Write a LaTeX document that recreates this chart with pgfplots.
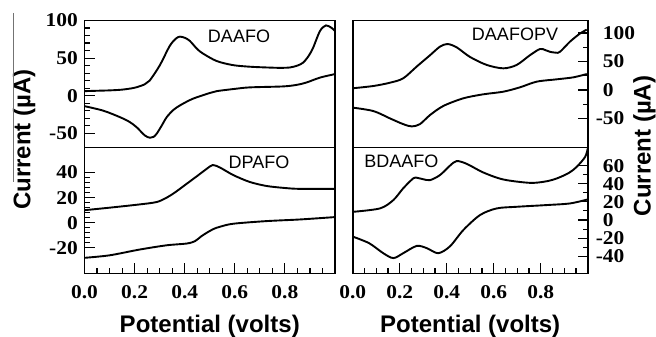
\documentclass[border=0pt]{standalone}
\usepackage{pgfplots}
\pgfplotsset{compat=1.18}
\usepackage{fontspec}
\setmainfont{Liberation Sans}
\newfontfamily\tickfont[FakeStretch=1.1]{Liberation Serif}

\pgfplotsset{
  cvbase/.style={
    scale only axis,
    xmin=0, xmax=1,
    axis line style={line width=1.6pt},
    every tick/.style={black, line width=1.1pt},
    major tick length=10pt,
    minor tick length=5pt,
    tick label style={font=\tickfont\bfseries\fontsize{19.5}{19.5}\selectfont, inner sep=0pt},
  },
  cvbottom/.style={
    xtick={0,0.2,0.4,0.6,0.8,1},
    xticklabels={0.0,0.2,0.4,0.6,0.8,{}},
    minor x tick num=3,
    xtick pos=lower,
    xticklabel style={anchor=north, yshift=-12pt},
  },
  cvline/.style={black, line width=1.9pt, smooth, no markers},
}

\begin{document}
\begin{tikzpicture}
\useasboundingbox (0pt,0pt) rectangle (656pt,337pt);

% ---------- DAAFO (top left)
\begin{axis}[cvbase, at={(84.5pt,189.5pt)}, anchor=south west,
  width=250.5pt, height=127pt, ymin=-69, ymax=100,
  xtick=\empty,
  ytick={-50,0,50,100}, yticklabels={-50,0,50,100}, minor y tick num=4,
  ytick pos=lower, yticklabel style={anchor=east, xshift=-6.5pt}]
\addplot[cvline] coordinates {(0,6) (0.05,6.5) (0.1,7) (0.15,8) (0.2,10.5) (0.24,15) (0.26,20) (0.30,40) (0.34,66) (0.365,76) (0.381,78.5) (0.40,77) (0.42,73) (0.45,62) (0.473,56) (0.528,46) (0.593,40.6) (0.66,38.5) (0.727,37.5) (0.78,37) (0.82,37.5) (0.85,40) (0.873,44) (0.895,53) (0.913,64) (0.94,86) (0.964,93.5) (0.987,90) (1.0,86)};
\addplot[cvline] coordinates {(0,-14) (0.075,-20) (0.142,-28.7) (0.18,-35) (0.208,-42) (0.241,-53) (0.261,-56) (0.275,-55) (0.288,-50.7) (0.308,-40) (0.328,-28.7) (0.355,-19) (0.381,-13) (0.42,-6) (0.448,-2.2) (0.5,3.5) (0.528,6) (0.6,9) (0.66,11) (0.794,12.3) (0.85,14.5) (0.887,17.6) (0.94,24) (1.0,28.7)};
\end{axis}

% ---------- DPAFO (bottom left)
\begin{axis}[cvbase, cvbottom, at={(84.5pt,63.5pt)}, anchor=south west,
  width=250.5pt, height=126pt, ymin=-40.5, ymax=60,
  ytick={-20,0,20,40}, yticklabels={-20,0,20,40}, minor y tick num=4,
  ytick pos=lower, yticklabel style={anchor=east, xshift=-6.5pt}]
\addplot[cvline] coordinates {(0,10) (0.1,12) (0.22,14.6) (0.288,16.5) (0.328,20) (0.36,24) (0.394,29) (0.448,37) (0.488,43) (0.512,46) (0.541,44) (0.594,38) (0.66,32.5) (0.727,29.3) (0.8,27.7) (0.86,27) (1.0,27)};
\addplot[cvline] coordinates {(0,-28) (0.1,-26) (0.22,-21.4) (0.328,-18) (0.408,-16.6) (0.441,-14.7) (0.465,-11) (0.488,-8) (0.515,-5) (0.541,-3.2) (0.594,-0.8) (0.727,1.3) (0.86,2.6) (1.0,4.5)};
\end{axis}

% ---------- DAAFOPV (top right)
\begin{axis}[cvbase, at={(352.7pt,189.5pt)}, anchor=south west,
  width=235pt, height=127pt, ymin=-101, ymax=122,
  xtick=\empty,
  ytick={-50,0,50,100}, yticklabels={\llap{-}50,0,50,100}, minor y tick num=1,
  ytick pos=upper, yticklabel pos=upper, yticklabel style={anchor=west, xshift=15pt}]
\addplot[cvline] coordinates {(0,3) (0.088,7) (0.159,12.8) (0.215,20.5) (0.272,41) (0.329,61) (0.371,76) (0.403,80.7) (0.442,75) (0.499,58) (0.57,44) (0.641,38) (0.698,44) (0.754,61) (0.797,72) (0.82,70) (0.84,67) (0.865,65.5) (0.882,67) (0.925,85) (0.967,99) (0.996,106)};
\addplot[cvline] coordinates {(0,-31) (0.088,-37) (0.159,-50) (0.215,-60) (0.251,-64) (0.286,-60) (0.329,-44) (0.386,-28) (0.471,-14.6) (0.556,-7.6) (0.641,-3) (0.712,4.7) (0.783,14.6) (0.868,18.7) (0.939,22.2) (0.996,28)};
\end{axis}

% ---------- BDAAFO (bottom right)
\begin{axis}[cvbase, cvbottom, at={(352.7pt,63.5pt)}, anchor=south west,
  width=235pt, height=126pt, ymin=-59, ymax=80,
  ytick={-40,-20,0,20,40,60}, yticklabels={\llap{-}40,\llap{-}20,0,20,40,60}, minor y tick num=1,
  ytick pos=upper, yticklabel pos=upper, yticklabel style={anchor=west, xshift=15pt}]
\addplot[cvline] coordinates {(0,9) (0.116,12.8) (0.173,22) (0.215,35) (0.258,46) (0.275,46.5) (0.3,45) (0.329,44) (0.371,49.5) (0.414,60) (0.442,65) (0.485,62) (0.556,52.4) (0.641,44.7) (0.754,41) (0.82,42.5) (0.868,45.8) (0.92,52) (0.953,58.6) (0.989,69.6) (1.0,78.8)};
\addplot[cvline] coordinates {(0,-18.3) (0.07,-25.6) (0.13,-36.6) (0.173,-42) (0.215,-36.6) (0.272,-28.6) (0.315,-31) (0.364,-36.6) (0.414,-29) (0.471,-11) (0.542,5.5) (0.613,12.8) (0.698,14.6) (0.826,16.5) (0.925,18.3) (1.0,22.7)};
\end{axis}

% x labels
\node[anchor=base, inner sep=0pt, font=\bfseries\fontsize{24}{24}\selectfont] at (209.75pt,4pt) {Potential (volts)};
\node[anchor=base, inner sep=0pt, font=\bfseries\fontsize{24}{24}\selectfont] at (470.2pt,4pt) {Potential (volts)};

% panel titles
\node[anchor=base, inner sep=0pt, font=\fontsize{18}{18}\selectfont] at (239pt,294.7pt) {DAAFO};
\node[anchor=base, inner sep=0pt, font=\fontsize{18}{18}\selectfont] at (259pt,168.7pt) {DPAFO};
\node[anchor=base, inner sep=0pt, font=\fontsize{18}{18}\selectfont] at (515pt,296.3pt) {DAAFOPV};
\node[anchor=base, inner sep=0pt, font=\fontsize{18}{18}\selectfont] at (401.3pt,169.7pt) {BDAAFO};

% y labels
\node[rotate=90, anchor=base, inner sep=0pt, font=\bfseries\fontsize{24}{24}\selectfont] at (30.5pt,197.5pt) {Current (µA)};
\node[rotate=90, anchor=base, inner sep=0pt, font=\bfseries\fontsize{24}{24}\selectfont] at (650.5pt,191pt) {Current (µA)};

% thin scan artefact line at top left
\draw[line width=0.6pt, black!55] (13.3pt,324pt) -- (13.3pt,155pt);
\end{tikzpicture}
\end{document}
